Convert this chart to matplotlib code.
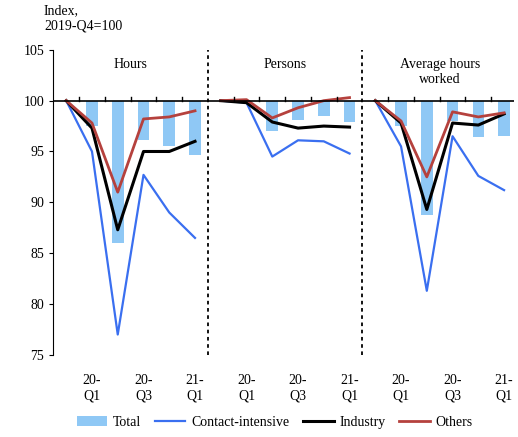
import matplotlib
matplotlib.use("Agg")
import matplotlib.pyplot as plt
import numpy as np

plt.rcParams['font.family'] = ['Liberation Serif', 'DejaVu Serif']

panels = ["Hours", "Persons", "Average hours\nworked"]
contact = [[100, 95, 77, 92.7, 89, 86.5],
           [100, 99.8, 94.5, 96.1, 96, 94.8],
           [100, 95.5, 81.3, 96.5, 92.6, 91.2]]
industry = [[100, 97.3, 87.3, 95, 95, 96],
            [100, 99.8, 97.9, 97.3, 97.5, 97.4],
            [100, 97.8, 89.3, 97.8, 97.6, 98.7]]
others = [[100, 97.8, 91, 98.2, 98.4, 99],
          [100, 100.1, 98.3, 99.3, 100, 100.3],
          [100, 98, 92.5, 98.9, 98.4, 98.8]]
total = [[97.5, 86, 96.1, 95.5, 94.7],
         [99.8, 97.0, 98.1, 98.5, 97.9],
         [97.5, 88.8, 98.0, 96.4, 96.5]]
xlabels = ["20-\nQ1", "20-\nQ3", "21-\nQ1"]

fig = plt.figure(figsize=(5.18, 4.37), dpi=100)
ax = fig.add_axes([0.103, 0.188, 0.89, 0.698])
handles = {}
for p in range(3):
    xs = np.arange(6) + 6 * p
    handles['Total'] = ax.bar(xs[1:], np.array(total[p]) - 100, bottom=100, width=0.45,
                              color='#8fc8f5', zorder=1)
    handles['Contact-intensive'], = ax.plot(xs, contact[p], color='#3a6ff0', lw=1.6, zorder=2)
    handles['Industry'], = ax.plot(xs, industry[p], color='black', lw=2.2, zorder=3)
    handles['Others'], = ax.plot(xs, others[p], color='#b5413d', lw=2.0, zorder=4)
    ax.text(2.5 + 6 * p, 104.2, panels[p], ha='center', va='top', fontsize=10)
for d in [5.5, 11.5]:
    ax.axvline(d, color='black', ls=(0, (2, 2)), lw=1.3)
ax.axhline(100, color='black', lw=1.2, zorder=5)
for t in np.arange(0.5, 17.6, 1):
    if t in (5.5, 11.5):
        continue
    ax.plot([t, t], [100, 100.4], color='black', lw=1, zorder=5)
ax.set_xlim(-0.5, 17.4)
ax.set_ylim(75, 105)
ax.set_yticks(range(75, 106, 5))
ax.tick_params(axis='y', labelsize=10, length=3)
tickpos = []
for p in range(3):
    tickpos += [1 + 6 * p, 3 + 6 * p, 5 + 6 * p]
ax.set_xticks(tickpos)
ax.set_xticklabels(xlabels * 3, fontsize=10)
ax.tick_params(axis='x', length=0, pad=14)
for s in ['top', 'right', 'bottom']:
    ax.spines[s].set_visible(False)
fig.text(0.085, 0.99, "Index,\n2019-Q4=100", ha='left', va='top', fontsize=10)
order = ['Total', 'Contact-intensive', 'Industry', 'Others']
fig.legend([handles[k] for k in order], order, loc='lower center', ncol=4, frameon=False, fontsize=10,
           bbox_to_anchor=(0.53, -0.01), handlelength=2.2, columnspacing=1.0, handletextpad=0.4)
fig.savefig("out.png", dpi=100)
